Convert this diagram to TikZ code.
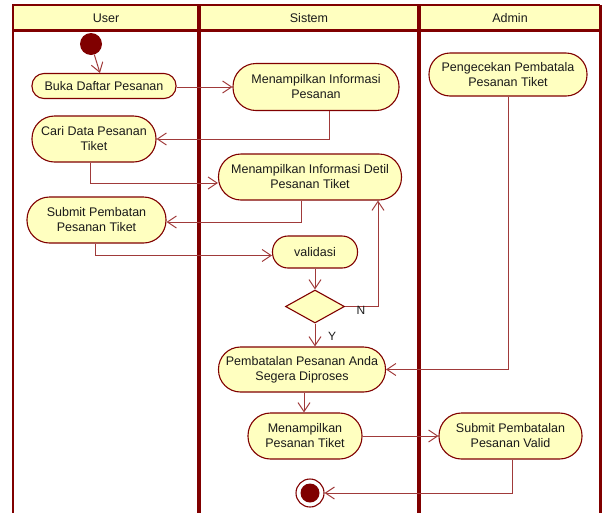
\documentclass[tikz,border=0pt]{standalone}
\usepackage{fontspec}
\setmainfont{Liberation Sans}
\usetikzlibrary{arrows.meta,shapes.geometric}
\definecolor{lane}{HTML}{800000}
\definecolor{edge}{HTML}{A03A3A}
\definecolor{paleY}{HTML}{FFFFC0}
\definecolor{txt}{HTML}{1A1A1A}

\begin{document}
\begin{tikzpicture}[x=1pt,y=-1pt,
  lbl/.style={text=txt, font=\fontsize{12.5}{15}\selectfont},
  act/.style={lbl, draw=lane, fill=paleY, line width=1.1pt, align=center, inner sep=0pt},
  flow/.style={draw=edge, line width=1pt, -{Straight Barb[length=9pt,width=12pt]}},
]
\useasboundingbox (0,0) rectangle (604,512);

% swimlane frame and headers
\fill[paleY] (13,5) rectangle (600,30);
\draw[lane, line width=2pt] (13,530) -- (13,5) -- (600,5);
\draw[lane, line width=3pt] (600,5) -- (600,530);
\draw[lane, line width=3pt] (13,30) -- (600,30);
\draw[lane, line width=4pt] (199,5) -- (199,530);
\draw[lane, line width=4pt] (419,5) -- (419,530);
\node[lbl] (hUser)   at (106,18) {User};
\node[lbl] (hSistem) at (309,18) {Sistem};
\node[lbl] (hAdmin)  at (510,18) {Admin};

% start and end
\node[circle, fill=lane, minimum size=22pt, inner sep=0pt] (start) at (91,44) {};
\node[circle, draw=lane, fill=white, line width=1.1pt, minimum size=28pt, inner sep=0pt] (final) at (310,493) {};
\fill[lane] (final.center) circle (9.5pt);

% User lane
\node[act, minimum width=144pt, minimum height=25pt, rounded corners=12pt] (buka) at (104,86) {Buka Daftar Pesanan};
\node[act, minimum width=124pt, minimum height=46pt, rounded corners=22.5pt] (cari) at (94,139) {Cari Data Pesanan\\Tiket};
\node[act, minimum width=139pt, minimum height=46pt, rounded corners=22.5pt] (submit) at (96.5,220) {Submit Pembatan\\Pesanan Tiket};

% Sistem lane
\node[act, minimum width=166pt, minimum height=47pt, rounded corners=23pt] (mip) at (316,87) {Menampilkan Informasi\\Pesanan};
\node[act, minimum width=183pt, minimum height=46pt, rounded corners=22.5pt] (midpt) at (310,177) {Menampilkan Informasi Detil\\Pesanan Tiket};
\node[act, minimum width=85pt, minimum height=32pt, rounded corners=15.5pt] (valid) at (315,252) {validasi};
\node[diamond, draw=lane, fill=paleY, line width=1.1pt, minimum width=59pt, minimum height=33pt, inner sep=0pt] (dec) at (315,306.5) {};
\node[act, minimum width=167pt, minimum height=45pt, rounded corners=22pt] (pemb) at (302,369.5) {Pembatalan Pesanan Anda\\Segera Diproses};
\node[act, minimum width=114pt, minimum height=46pt, rounded corners=22.5pt] (mpt) at (305,436) {Menampilkan\\Pesanan Tiket};

% Admin lane
\node[act, minimum width=158pt, minimum height=43pt, rounded corners=21pt] (peng) at (508,74.5) {Pengecekan Pembatala\\Pesanan Tiket};
\node[act, minimum width=143pt, minimum height=46pt, rounded corners=22.5pt] (subv) at (510.5,436) {Submit Pembatalan\\Pesanan Valid};

% control flow
\draw[flow] (start) -- (buka);
\draw[flow] (buka.east |- mip.west) -- (mip.west);
\draw[flow] ([xshift=13pt]mip.south) |- (cari.east);
\draw[flow] ([xshift=-4pt]cari.south) |- ([yshift=-6pt]midpt.west);
\draw[flow] ([xshift=-9pt]midpt.south) |- ([yshift=-2pt]submit.east);
\draw[flow] ([xshift=-1.5pt]submit.south) |- ([yshift=-3.5pt]valid.west);
\draw[flow] (valid.south) -- (dec.north);
\draw[flow] (dec.east) -| ([xshift=68pt]midpt.south);
\draw[flow] (dec.south) -- (dec.south |- pemb.north);
\draw[flow] (peng.south) |- (pemb.east);
\draw[flow] ([xshift=2pt]pemb.south) -- ([xshift=-1pt]mpt.north);
\draw[flow] (mpt.east) -- (subv.west);
\draw[flow] ([xshift=1.5pt]subv.south) |- (final.east);

% guard labels
\node[lbl, font=\fontsize{12}{14}\selectfont] (gN) at (361,310) {N};
\node[lbl, font=\fontsize{12}{14}\selectfont] (gY) at (332,336) {Y};
\end{tikzpicture}
\end{document}
